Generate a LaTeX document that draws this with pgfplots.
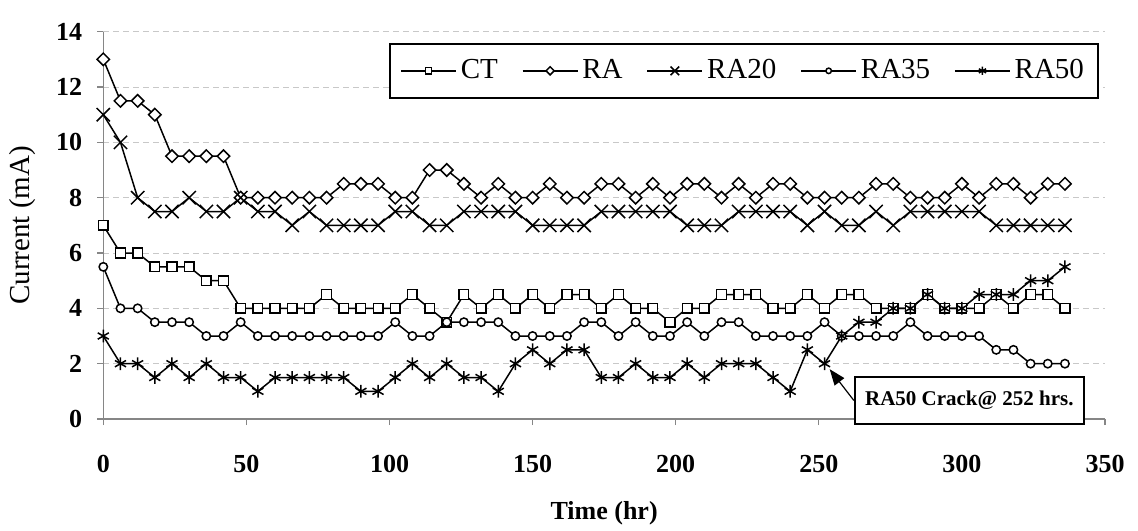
\documentclass[border=0pt]{standalone}
\usepackage{fontspec}
\setmainfont{Liberation Serif}
\usepackage{pgfplots}
\usepackage{pgfplotstable}
\pgfplotsset{compat=1.18}
\usetikzlibrary{arrows.meta}

% current readings every 6 h
\pgfplotstableread{
t   CT   RA    RA20  RA35  RA50
0   7    13    11    5.5   3
6   6    11.5  10    4     2
12  6    11.5  8     4     2
18  5.5  11    7.5   3.5   1.5
24  5.5  9.5   7.5   3.5   2
30  5.5  9.5   8     3.5   1.5
36  5    9.5   7.5   3     2
42  5    9.5   7.5   3     1.5
48  4    8     8     3.5   1.5
54  4    8     7.5   3     1
60  4    8     7.5   3     1.5
66  4    8     7     3     1.5
72  4    8     7.5   3     1.5
78  4.5  8     7     3     1.5
84  4    8.5   7     3     1.5
90  4    8.5   7     3     1
96  4    8.5   7     3     1
102 4    8     7.5   3.5   1.5
108 4.5  8     7.5   3     2
114 4    9     7     3     1.5
120 3.5  9     7     3.5   2
126 4.5  8.5   7.5   3.5   1.5
132 4    8     7.5   3.5   1.5
138 4.5  8.5   7.5   3.5   1
144 4    8     7.5   3     2
150 4.5  8     7     3     2.5
156 4    8.5   7     3     2
162 4.5  8     7     3     2.5
168 4.5  8     7     3.5   2.5
174 4    8.5   7.5   3.5   1.5
180 4.5  8.5   7.5   3     1.5
186 4    8     7.5   3.5   2
192 4    8.5   7.5   3     1.5
198 3.5  8     7.5   3     1.5
204 4    8.5   7     3.5   2
210 4    8.5   7     3     1.5
216 4.5  8     7     3.5   2
222 4.5  8.5   7.5   3.5   2
228 4.5  8     7.5   3     2
234 4    8.5   7.5   3     1.5
240 4    8.5   7.5   3     1
246 4.5  8     7     3     2.5
252 4    8     7.5   3.5   2
258 4.5  8     7     3     3
264 4.5  8     7     3     3.5
270 4    8.5   7.5   3     3.5
276 4    8.5   7     3     4
282 4    8     7.5   3.5   4
288 4.5  8     7.5   3     4.5
294 4    8     7.5   3     4
300 4    8.5   7.5   3     4
306 4    8     7.5   3     4.5
312 4.5  8.5   7     2.5   4.5
318 4    8.5   7     2.5   4.5
324 4.5  8     7     2     5
330 4.5  8.5   7     2     5
336 4    8.5   7     2     5.5
}\currentdata

\begin{document}
\begin{tikzpicture}
\definecolor{axgray}{RGB}{134,134,134}
\definecolor{gridgray}{RGB}{200,200,200}
\begin{axis}[
  at={(0,0)}, anchor=south west,
  scale only axis, width=500.85pt, height=193.65pt,
  xmin=0, xmax=350, ymin=0, ymax=14,
  xtick={0,50,...,350}, ytick={0,2,...,14},
  axis lines=left, axis line style={-, draw=axgray, line width=0.6pt},
  tick style={draw=axgray, line width=0.6pt},
  tick align=outside, major tick length=3pt,
  ymajorgrids, grid style={gridgray, dash pattern=on 3pt off 2pt, line width=0.5pt},
  /pgf/number format/assume math mode=true,
  ticklabel style={font=\fontsize{13}{15}\selectfont\bfseries},
  xticklabel style={anchor=center, yshift=-19.5pt},
  yticklabel style={xshift=-4pt},
  xlabel={Time (hr)}, ylabel={Current (mA)},
  xlabel style={at={(axis description cs:0.5,-0.2435)}, anchor=center,
    font=\fontsize{13}{15}\selectfont\bfseries},
  ylabel style={at={(axis description cs:-0.081,0.5)}, anchor=center,
    font=\fontsize{14.5}{16}\selectfont},
  clip=false,
  legend columns=5,
  legend cell align=left,
  legend style={at={(rel axis cs:0.994,0.9716)}, anchor=north east,
    draw=black, line width=1pt, fill=white, inner xsep=5pt, inner ysep=6pt,
    font=\fontsize{14.5}{16}\selectfont,
    /tikz/every even column/.append style={column sep=10pt}},
  legend image code/.code={
    \draw[#1, mark repeat=2, mark phase=2, /tikz/every mark/.append style={scale=0.65}]
      plot coordinates {(0pt,0pt) (13.75pt,0pt) (27.5pt,0pt)};},
  every axis plot/.append style={black, line width=0.75pt},
]
\addplot[mark=square*, mark size=2.4pt, mark options={fill=white}]
  table[x=t, y=CT] {\currentdata};
\addlegendentry{CT}
\addplot[mark=square*, mark size=2.2pt, mark options={fill=white, rotate=45}]
  table[x=t, y=RA] {\currentdata};
\addlegendentry{RA}
\addplot[mark=x, mark size=4.7pt]
  table[x=t, y=RA20] {\currentdata};
\addlegendentry{RA20}
\addplot[mark=*, mark size=2.1pt, mark options={fill=white}]
  table[x=t, y=RA35] {\currentdata};
\addlegendentry{RA35}
\addplot[mark=asterisk, mark size=3.2pt]
  table[x=t, y=RA50] {\currentdata};
\addlegendentry{RA50}

\node[draw=black, line width=1pt, fill=white, inner sep=2pt,
  minimum width=114.5pt, minimum height=23.5pt,
  font=\fontsize{10.5}{12}\selectfont\bfseries] (crack) at (axis cs:302.6,0.67)
  {RA50 Crack@ 252 hrs.};
\draw[-{Triangle[length=8pt,width=6pt]}, line width=0.6pt]
  (crack.west) -- (axis cs:253.8,1.8);
\end{axis}
\pgfresetboundingbox
\path[use as bounding box] (-51.65pt,-55.5pt) rectangle (517.35pt,209.5pt);
\end{tikzpicture}
\end{document}
